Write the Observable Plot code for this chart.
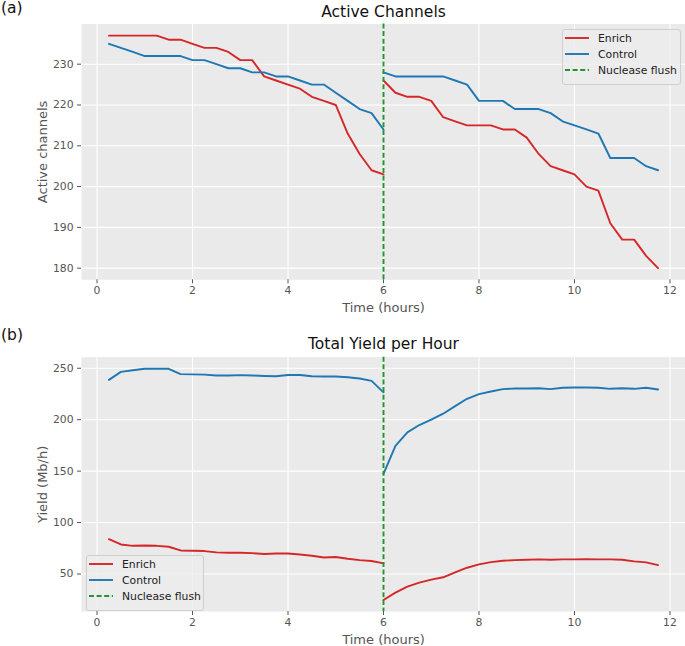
<!DOCTYPE html>
<html><head><meta charset="utf-8">
<script src="https://cdn.jsdelivr.net/npm/d3@7"></script>
<script src="https://cdn.jsdelivr.net/npm/@observablehq/plot@0.6"></script>
<style>
body{margin:0;background:#fff;font-family:"DejaVu Sans",sans-serif;}
#wrap{position:relative;width:685px;height:646px;overflow:hidden;}
.panel{position:absolute;left:0;}
.plabel{position:absolute;left:1px;font-size:15.5px;color:#111;line-height:1.1;}
.legend{position:absolute;background:rgba(236,236,236,0.8);border:1px solid #cfcfcf;border-radius:3px;font-size:10.8px;color:#222;box-sizing:border-box;}
.legend .row{position:absolute;left:0;height:14px;display:flex;align-items:center;}
.legend svg{margin-left:2px;margin-right:9px;}
</style>
</head><body>
<div id="wrap"></div>
<script>
// ---------- data ----------
const seriesNames = ["Enrich", "Control"];
const seriesColors = ["#d62728", "#1f77b4"];
const flushLabel = "Nuclease flush";
const flushColor = "#23952f";
const flushTime = [6];

const timePre  = [0.25,0.5,0.75,1.0,1.25,1.5,1.75,2.0,2.25,2.5,2.75,3.0,3.25,3.5,3.75,4.0,4.25,4.5,4.75,5.0,5.25,5.5,5.75,6.0];
const timePost = [6.0,6.25,6.5,6.75,7.0,7.25,7.5,7.75,8.0,8.25,8.5,8.75,9.0,9.25,9.5,9.75,10.0,10.25,10.5,10.75,11.0,11.25,11.5,11.75];

const channelsEnrichPre   = [237,237,237,237,237,236,236,235,234,234,233,231,231,227,226,225,224,222,221,220,213,208,204,203];
const channelsControlPre  = [235,234,233,232,232,232,232,231,231,230,229,229,228,228,227,227,226,225,225,223,221,219,218,214];
const channelsEnrichPost  = [226,223,222,222,221,217,216,215,215,215,214,214,212,208,205,204,203,200,199,191,187,187,183,180];
const channelsControlPost = [228,227,227,227,227,227,226,225,221,221,221,219,219,219,218,216,215,214,213,207,207,207,205,204];

const yieldEnrichPre   = [83.9,78.7,77.4,77.7,77.4,76.5,72.9,72.6,72.3,71.0,70.6,70.6,70.3,69.4,70.0,70.0,69.0,67.7,66.1,66.5,64.8,63.5,62.6,60.3];
const yieldControlPre  = [238.7,246.5,248.0,249.5,249.5,249.5,244.3,244.0,243.8,243.0,243.0,243.3,243.0,242.5,242.2,243.5,243.5,242.2,242.0,242.0,241.3,240.0,237.7,226.5];
const yieldEnrichPost  = [24.8,31.9,37.7,41.6,44.5,46.8,51.6,56.1,59.4,61.6,62.9,63.5,63.9,64.2,63.9,64.2,64.2,64.5,64.2,64.2,63.9,62.3,61.3,58.7];
const yieldControlPost = [147.4,174.5,187.7,194.8,200.0,205.8,213.2,220.3,224.8,227.4,229.7,230.3,230.3,230.6,229.7,231.0,231.3,231.3,231.0,230.0,230.6,230.0,231.0,229.4];

const xTicks = [0,2,4,6,8,10,12];
const channelTicks = [180,190,200,210,220,230];
const yieldTicks = [50,100,150,200,250];

// ---------- build ----------
function rows(name, seg, times, vals) {
  return times.map((t, i) => ({t, v: vals[i], series: name, key: name + seg}));
}
const channelData = [
  ...rows("Enrich","pre",timePre,channelsEnrichPre), ...rows("Control","pre",timePre,channelsControlPre),
  ...rows("Enrich","post",timePost,channelsEnrichPost), ...rows("Control","post",timePost,channelsControlPost)
];
const yieldData = [
  ...rows("Enrich","pre",timePre,yieldEnrichPre), ...rows("Control","pre",timePre,yieldControlPre),
  ...rows("Enrich","post",timePost,yieldEnrichPost), ...rows("Control","post",timePost,yieldControlPost)
];

const allT = [...timePre, ...timePost];
const tMin = d3.min(allT), tMax = d3.max(allT), tPad = (tMax - tMin) * 0.05;
const xDomain = [tMin - tPad, tMax + tPad];
function padDomain(vals) {
  const lo = d3.min(vals), hi = d3.max(vals), p = (hi - lo) * 0.05;
  return [lo - p, hi + p];
}

function panel({data, yTicks, title, yLabel, height, marginTop, marginBottom, titleDy, xLabelDy}) {
  return Plot.plot({
    width: 685, height, marginLeft: 81, marginRight: 0, marginTop, marginBottom,
    style: {fontFamily: "DejaVu Sans, sans-serif", fontSize: "10.8px", color: "#555", background: "transparent", overflow: "visible"},
    x: {domain: xDomain},
    y: {domain: padDomain(data.map(d => d.v))},
    color: {domain: seriesNames, range: seriesColors},
    marks: [
      Plot.frame({fill: "#eaeaea", stroke: null}),
      Plot.gridX(xTicks, {stroke: "white", strokeOpacity: 1, strokeWidth: 1.1}),
      Plot.gridY(yTicks, {stroke: "white", strokeOpacity: 1, strokeWidth: 1.1}),
      Plot.axisX(xTicks, {tickSize: 4, tickPadding: 3, label: null, stroke: "#555", fill: "#555"}),
      Plot.axisY(yTicks, {tickSize: 4, tickPadding: 4, label: null, stroke: "#555", fill: "#555"}),
      Plot.line(data, {x: "t", y: "v", z: "key", stroke: "series", strokeWidth: 1.9}),
      Plot.ruleX(flushTime, {stroke: flushColor, strokeDasharray: "5,2.6", strokeWidth: 1.9}),
      Plot.text([title], {frameAnchor: "top", lineAnchor: "middle", dy: titleDy, fill: "#111", fontSize: 15.5}),
      Plot.text(["Time (hours)"], {frameAnchor: "bottom", lineAnchor: "middle", dy: xLabelDy, fill: "#555", fontSize: 13}),
      Plot.text([yLabel], {frameAnchor: "left", lineAnchor: "middle", textAnchor: "middle", rotate: -90, dx: -39, fill: "#555", fontSize: 13})
    ]
  });
}

const wrap = document.getElementById("wrap");

const topPanel = panel({data: channelData, yTicks: channelTicks, title: "Active Channels", yLabel: "Active channels",
  height: 323, marginTop: 23.5, marginBottom: 43.7, titleDy: -11.5, xLabelDy: 27.7});
topPanel.classList.add("panel"); topPanel.style.top = "0px";
wrap.appendChild(topPanel);

const botPanel = panel({data: yieldData, yTicks: yieldTicks, title: "Total Yield per Hour", yLabel: "Yield (Mb/h)",
  height: 323, marginTop: 33.7, marginBottom: 35, titleDy: -12.7, xLabelDy: 28});
botPanel.classList.add("panel"); botPanel.style.top = "323px";
wrap.appendChild(botPanel);

function addLabel(txt, y) {
  const d = document.createElement("div");
  d.className = "plabel"; d.textContent = txt; d.style.top = y + "px";
  wrap.appendChild(d);
}
addLabel("(a)", 0);
addLabel("(b)", 327);

const legendItems = [
  {label: seriesNames[0], color: seriesColors[0], dash: null},
  {label: seriesNames[1], color: seriesColors[1], dash: null},
  {label: flushLabel, color: flushColor, dash: "5,2.6"}
];
function addLegend(left, topPx, w, h) {
  const box = document.createElement("div");
  box.className = "legend";
  Object.assign(box.style, {left: left + "px", top: topPx + "px", width: w + "px", height: h + "px"});
  legendItems.forEach((it, i) => {
    const r = document.createElement("div");
    r.className = "row";
    r.style.top = (1 + i * 16) + "px";
    r.innerHTML = `<svg width="24" height="14"><line x1="0" x2="24" y1="7" y2="7" stroke="${it.color}" stroke-width="1.9" ${it.dash ? `stroke-dasharray="${it.dash}"` : ""}/></svg><span>${it.label}</span>`;
    box.appendChild(r);
  });
  wrap.appendChild(box);
}
addLegend(562, 29, 119, 56);
addLegend(86, 555, 118, 56);
</script>
</body></html>
